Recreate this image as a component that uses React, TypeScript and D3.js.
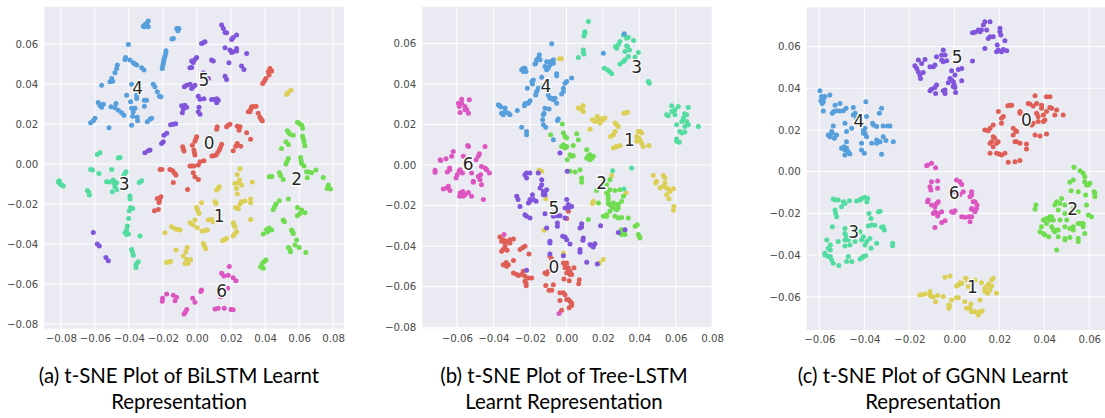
import React, { useEffect, useRef } from 'react';
import * as d3 from 'd3';

type Pt = number[];

// cluster colours, index = class label
const classColors = ['#df5f57', '#dccf55', '#70dc50', '#52dca0', '#569fdc', '#8055dc', '#dc55c0'];

const biLstm0: Pt[] = [[42.9,47.9],[41.9,46.2],[43.9,46.6],[42.4,44.6],[40.5,42.9],[39.6,41.6],[38.6,40.4],[31.1,26.2],[32.1,28.7],[34.7,29],[33.4,28.8],[30.2,26.2],[31.6,27.4],[36,25.4],[37,23.4],[37.7,22.5],[38.4,21.7],[11.9,18.7],[11.6,17.4],[17.4,18.7],[18.4,19.4],[19.4,20],[23.7,19],[25.3,18.7],[24.7,17],[29.2,15.7],[31.5,12.5],[-0.2,13.7],[-1.2,11.5],[-0.7,12.6],[-2.7,9.5],[14.5,10],[13.8,8.5],[13.1,7],[11.2,4.5],[12.2,5.8],[8.8,4],[10,4.2],[23.7,10.3],[25.7,9],[22.8,8.9],[21.3,6.7],[-8.4,8.7],[-7.6,6.5],[-8,7.6],[-1.8,7],[-1.5,5.8],[-1.2,4.5],[1.8,1.2],[4.1,1.7],[0.8,-0.5],[-4.1,-1],[-1.8,-1],[-3,-1],[-21.7,-2.7],[-20.6,-2.7],[-15.9,-2.7],[-14.3,-3.3],[-13.3,-4.4],[-12.3,-5.5],[-2.2,-4.3],[-1.2,-6.3],[0.8,-7.7],[-13.9,-9.2],[-5.5,-12.7],[-21.2,-16.4],[-23.3,-17.2],[-22.3,-19.2],[-22,-17.8],[-25,-23.4],[-22.7,-22.7]];
const biLstm1: Pt[] = [[52.7,34.9],[53.4,35.6],[55.2,37],[25.3,-2.3],[23.7,-5.2],[32.5,-9],[22.3,-9.7],[24.3,-9.3],[26.2,-10.5],[23.3,-12.2],[25,-8],[13.1,-11.3],[12.4,-12.2],[11.6,-13],[23.7,-15],[10.6,-18.9],[11.2,-19.7],[2.7,-19.4],[26.2,-18.9],[25.3,-20],[31.5,-17.5],[31.5,-19.4],[28.2,-18.5],[22.7,-21.7],[24.3,-22.4],[-0.2,-21.7],[0.5,-23.2],[1.2,-24.7],[6.7,-28],[8.6,-27.7],[9.6,-28.9],[31.5,-27.7],[21.3,-29.4],[21.8,-30.4],[22.3,-31.4],[-1.2,-28],[-4.1,-29.4],[-2.2,-30.5],[0.2,-31.9],[3.1,-33.5],[4.6,-33.2],[6.1,-33],[-14.9,-31.4],[-12.9,-32.4],[-11.5,-32.7],[-10,-33],[-18.8,-34.4],[23.3,-33.9],[21.3,-36],[22.2,-35],[17.4,-37.2],[16.2,-37.8],[15.1,-38.4],[3.7,-39.7],[4.4,-41],[5.1,-42.4],[-12.3,-43],[-5.7,-41.7],[-6.5,-43.9],[-8,-46],[-3.7,-47.7],[-7,-49.7],[-5.1,-49.7],[-6,-47.8],[-17.8,-49.2],[-16.6,-49],[-15.5,-48.7]];
const biLstm2: Pt[] = [[59.1,20.9],[61.5,19.5],[62.1,17.9],[60.3,20.2],[53.1,16.7],[53.8,15.8],[54.6,14.9],[56.6,14.5],[62.1,14],[62.5,12.6],[62.9,11.2],[63.4,9.2],[52.3,11.2],[53.7,9.8],[49.7,7.8],[60.9,3.3],[61.2,1.8],[61.5,0.3],[62.9,-1],[53.7,2.8],[53,1.4],[52.3,0],[42.5,-6.3],[48.4,-4.3],[50.7,-7.7],[49.2,-5.8],[44,-6.2],[64.4,-3.8],[67.4,-4.3],[69.9,-3],[64.8,-6.8],[65.8,-4],[74.2,-6.7],[77.2,-10.5],[78.5,-12.5],[76.6,-12.2],[48.4,-18.4],[46.4,-20],[45.6,-21.3],[44.8,-22.7],[53.7,-17.5],[59.1,-21.7],[61.5,-23],[63.5,-24.4],[59,-25.9],[60.5,-24.7],[50.7,-28],[51.4,-28.9],[55.6,-33],[56.1,-33.9],[56.6,-34.7],[40.9,-32.7],[43.9,-33],[39,-35],[41.5,-33.9],[42.4,-32],[58.6,-38],[57.6,-40.5],[60,-41.7],[53.7,-41.7],[55,-43.9],[54.6,-42.8],[64,-44.2],[40.5,-48],[38.4,-49.7],[39,-52.2],[37.4,-51.4],[39.5,-48.8]];
const biLstm3: Pt[] = [[-57,5.7],[-58.6,4.8],[-45.2,3.3],[-46.2,3],[-62.5,-2.7],[-61.4,-3],[-57.6,-4.7],[-50.1,-2.7],[-41.7,-3.8],[-42.5,-5],[-43.3,-6.3],[-53.1,-8.8],[-51.6,-8.9],[-49.2,-8],[-47.2,-9.3],[-48.2,-11.3],[-49.7,-13.8],[-46.9,-12.7],[-48.8,-9.5],[-32.5,-8.3],[-33.9,-9.2],[-81.5,-8.8],[-80.5,-10],[-78.5,-11],[-80.9,-8.3],[-79.5,-10.5],[-63.8,-13.8],[-63.2,-15.5],[-64.4,-13.2],[-39.4,-16],[-39.3,-17.5],[-39,-21.7],[-39.8,-23.4],[-37.8,-22.2],[-40.1,-27.2],[-40.9,-31],[-42.3,-34.4],[-40.3,-35],[-41.3,-33],[-41.3,-35.2],[-33.5,-36],[-38.4,-42.7],[-37.9,-44],[-37.4,-45.6],[-35.4,-49.7],[-34.5,-48.9],[-35.8,-51.7],[-35.8,-50.4]];
const biLstm4: Pt[] = [[-31.5,69.2],[-30.4,70],[-28.6,71.6],[-31,68.7],[-28.6,68.7],[-29.6,70.4],[-11.9,67.9],[-11.2,66.7],[-10.6,67.9],[-13.9,62.9],[-14.7,62.6],[-40.3,59.9],[-18.2,56.7],[-18.4,55.4],[-19.2,52.9],[-19.8,50.4],[-20.4,47.9],[-18.8,54],[-19.5,51.6],[-20.1,49.2],[-41.9,53.4],[-42.3,52.4],[-39.4,52.1],[-37.4,50.7],[-36.4,50.1],[-35.4,49.6],[-32.5,48.2],[-31.1,47.1],[-46.8,49.6],[-47.2,47.9],[-48.2,45.7],[-50.1,42.9],[-51.1,41.2],[-49.5,41.5],[-56,39.5],[-38.4,40],[-25.7,40],[-24.7,38.7],[-23.3,36.2],[-22.1,34],[-21.2,33.7],[-41.3,34.5],[-35.4,34.5],[-35.4,32.9],[-39,31.2],[-30.9,32],[-29.6,32],[-30.9,29],[-58,30.9],[-57,29.5],[-55,30],[-56,28.4],[-50.5,28.7],[-47.6,30.4],[-48.2,28.2],[-46.2,27],[-44.3,25.7],[-42.9,24.4],[-38.4,27.9],[-36.4,27.9],[-37.4,26.2],[-37.8,24],[-35.1,23.4],[-34.9,21.7],[-38.4,19.5],[-60.9,21.7],[-62.5,20.7],[-59.9,22.9],[-51.7,18.2],[-29.2,21.2],[-27.6,22.5],[-26.6,23]];
const biLstm5: Pt[] = [[14.5,69.6],[15.5,67.9],[16.5,65.9],[17.4,65.7],[20.4,62.4],[21.3,63.4],[23.3,64.6],[2.7,60.4],[4.7,61.2],[3.6,60.8],[16.5,58.2],[19.4,57.1],[21.3,56.2],[23.3,57.9],[20.4,55.9],[23.3,56.6],[29.2,55.4],[8.6,52.1],[9.6,51.6],[18.8,50.7],[-3.1,51.6],[-1.2,52.4],[-0.2,53.4],[-2.2,50.9],[-4.1,48.2],[-3.1,48.4],[26.2,49.1],[27.6,47.4],[16.5,44],[17.4,42.4],[3.7,45.7],[6.7,42.9],[-7.4,38.7],[-6.1,39.5],[-4.1,40],[-2.2,38.7],[-1.2,39.5],[-3.1,37.9],[0.8,34],[1.8,32.5],[4.1,32.7],[8.6,32.4],[11.6,32.7],[12.5,32],[11.6,30.7],[10,32.4],[-9,29.2],[-7.1,29.5],[-8,27.4],[-8.6,25.7],[-6.1,28.4],[1.2,28.4],[0.8,26.2],[1.8,25],[-15.5,19.7],[-14,20],[-12.5,20.2],[-19.4,14.5],[-17.8,15.4],[-20.8,10.3],[-19.8,11.2],[-30.6,5.7],[-28.6,6.7],[-27.6,7],[-60.9,-34.2],[-58.6,-40],[-57.4,-41],[-53.5,-46.7],[-52.1,-48.4]];
const biLstm6: Pt[] = [[19,-51.2],[14.5,-54.7],[15.9,-56],[18.4,-55.6],[21.3,-56.9],[22.9,-58.4],[18,-62.2],[2.7,-63],[2.3,-63.8],[-17.8,-65],[-20.2,-67.2],[-20.4,-68.6],[-13.9,-65.6],[-12,-66.7],[-12.9,-68.4],[-2.5,-67.2],[-1.2,-69.2],[-6,-72.8],[-6.8,-74],[-7.6,-75],[10.6,-72.6],[12.5,-72.2],[16,-72.2],[20,-72.8],[21.3,-72.9],[13.9,-66.4]];

const treeLstm0: Pt[] = [[-36.4,-35.5],[-34.6,-36.8],[-32.7,-37.6],[-29,-36.5],[-30.9,-38.4],[-33.6,-40],[-35.5,-42.5],[-32.5,-42],[-22.7,-40],[-25.4,-41.7],[-24,-40.8],[-20.5,-43.8],[-34.6,-49.1],[-31.8,-49.1],[-29,-47.1],[-33,-48],[-29,-53.2],[-26.3,-54.5],[-23.6,-52.4],[-22.7,-54.8],[-19,-55.7],[-22.1,-58.1],[-22,-59.5],[-9,-45],[-8,-46.3],[-11.7,-53.2],[-9.9,-52.4],[-1.6,-48.3],[0.2,-48.3],[1.1,-50.7],[0.2,-53.2],[2,-54],[4.2,-50.7],[-1.3,-56.2],[1.6,-57],[7.1,-56.5],[6.8,-58.5],[-11.3,-59.4],[-7.1,-59],[-9.5,-61.7],[-8,-61.7],[-3.5,-63],[-0.7,-63.9],[0.2,-66.3],[-3.5,-66.8],[2,-67.2],[2.9,-69.3],[1.5,-70.4],[-2.6,-71.6],[1.1,-22.8],[0.2,-26.4],[-35.5,-37.6],[-33.6,-38.4],[-30.9,-36.8],[-34.6,-41.7],[-33.6,-49.3],[-32.7,-49.9],[-27.2,-54],[-24.5,-54],[-20.8,-55.7],[-0.7,-50.7],[1.1,-52.4],[2,-52.4],[2.9,-54],[-0.7,-49.1],[1.1,-66.3],[-1.6,-63],[2.9,-68],[-10.8,-53.7],[-22.7,-57.3]];
const treeLstm1: Pt[] = [[-3.8,52.4],[-2.7,52.4],[7.1,28.1],[9.3,29.2],[9.3,26.4],[8.2,27.6],[14.4,22.3],[17,24],[18.5,20.7],[21.2,23.2],[19.3,22.8],[13,17.7],[31.6,25.6],[33.5,26.1],[26.7,20.7],[28.5,19],[26.7,16.6],[24.3,14.1],[25.8,8.4],[29.4,9.7],[27.5,9],[39.5,16.6],[41.3,15.8],[38.6,14.1],[40.4,12.5],[42.2,9.2],[45.3,9.7],[38.6,11.7],[47.7,-5.1],[49,-8.9],[53.2,-5.1],[54.1,-8.9],[51.4,-11.3],[55.9,-11.7],[58.7,-11.7],[55,-14.6],[56.3,-16.6],[59,-20.4],[58.7,-22.3],[-15,-2.6],[-13.6,-3.1],[-11.3,-16.6],[14.8,-17.9],[14.4,-19],[24.9,-5.1],[32.7,-13.8],[20.3,-46.6],[18.1,-48.3],[-12.2,-32.2],[-1.6,-43.4],[6.6,28.1],[17.4,22.3],[20.1,22.3],[15.7,21.5],[27.6,19.9],[25.8,14.9],[40.4,16.6],[39.5,13.3],[41.3,10.8],[53.2,-10.5],[55,-11.3],[56.9,-13],[49.5,-8],[54.1,-6.4],[27.6,9.2],[33.1,25.9]];
const treeLstm2: Pt[] = [[-2.2,20.2],[-8.6,14.9],[-1.6,15.8],[0.2,13.3],[5.7,15.4],[6.6,12.5],[-1.6,10],[0.2,9.2],[3.8,9.7],[2,5.1],[3.8,4.6],[0.5,2.6],[11.2,7.6],[13,5.1],[14.8,4.3],[11.2,3.4],[13,2.6],[2,-3.1],[4.8,-3.4],[7.5,-2.3],[8.4,-6.4],[8.4,-8.5],[16.6,-12.6],[22.1,-9.7],[23.9,-7.2],[22.5,-13.8],[23.9,-12.2],[26.7,-12.6],[29.4,-12.2],[23,-15.4],[31.3,-15.4],[30.3,-17.9],[23,-19],[25.8,-18.7],[28.5,-19.5],[27.6,-22],[23.9,-22.8],[20.3,-25.3],[22.1,-24.5],[26.7,-25.3],[30.3,-25.8],[34,-26.1],[12.1,-26.9],[17.6,-18.7],[37.7,-30.2],[38.9,-29.4],[39.5,-34.3],[40.4,-36],[29.4,-33.5],[32.2,-34.3],[30.3,-31.9],[-0.7,14.1],[-2.6,9.2],[-0.7,8.4],[2.9,4.3],[12.1,4.6],[13.9,3.4],[22.1,-13.8],[23.9,-19.5],[24.9,-20.4],[27.6,-19.5],[28.5,-21.2],[22.1,-25.3],[28.5,-26.1],[30.3,-34.3],[31.3,-33.5],[40,-35.1],[23,-17],[25.8,-21.2]];
const treeLstm3: Pt[] = [[12.1,70.8],[10.2,65],[9.7,63.7],[9.3,56.8],[9.7,54.8],[6.6,53],[31.3,64.2],[34,63],[36.9,61.4],[29.4,60.9],[27.6,57.6],[33.1,58.9],[34.6,56.8],[34,53.5],[32.2,51.9],[29.4,49.9],[37.7,53.2],[39.5,55.5],[20.8,47.8],[22.5,47],[24.9,45],[45,41.2],[45.5,40.4],[57.8,29.2],[55,24.8],[58.7,26.4],[61.4,28.9],[66.9,28.4],[59.6,24.8],[64.2,23.2],[66,24.8],[63.3,21.5],[66.9,19.9],[72.4,19],[60.5,19.9],[62.2,16.6],[65,16.3],[60.5,12.8],[62,11.3],[35.8,-1.5],[25.4,-2.8],[31.6,-11.8],[28.5,59.3],[33.1,62.6],[32.2,56],[33.5,58.5],[31.3,51.1],[23.7,46.1],[9.3,55.5],[59.6,27.3],[57.8,26.4],[64.9,25.3],[66,21.5],[65,19],[60.5,11.7],[63.3,15.8],[55.9,24.3],[10.2,65.8],[27,58.5]];
const treeLstm4: Pt[] = [[-8,59.8],[-16.3,51.9],[-14.8,54.4],[-17.2,49.9],[-15.4,52.7],[-10.8,51],[-7.1,51.9],[-7.1,50.2],[-9,49.4],[-10.8,47],[-11.7,48.6],[-24.5,47],[-22.7,47.8],[-22.1,46.1],[-23.5,46.1],[-13.5,43.3],[-5.3,45],[-5.3,44],[-18.1,42],[-18.6,40],[-21.4,37.9],[-16.3,36.3],[-14.4,37.9],[-16.8,34.6],[-12.6,39],[2.9,42.9],[-0.7,40.4],[-1.6,37.9],[-2.6,35.1],[-9,33],[-7.1,32.2],[-9.9,34.6],[-5.3,30.5],[-21.8,30.5],[-19.9,31.7],[-23,29.3],[-37.3,29.7],[-36,28.6],[-33.6,28.1],[-34.6,24.8],[-31.8,25.6],[-30.9,24.8],[-26.9,26.9],[-11.7,28],[-12.6,24.8],[-13,22.3],[-9.5,27.7],[-4.4,22.7],[-4.9,22],[-12.6,19.9],[-11.3,18.7],[-24.5,18.7],[-21.8,16.6],[-21.8,14.9],[-7.1,12.5],[20.3,55.2],[31.8,64.7],[-16.8,50.2],[-14.4,51.9],[-9,51],[-9.9,47.8],[-23.6,47.8],[-18.9,41.2],[-15.4,37.9],[-8,33],[-6.2,33],[-35.5,25.6],[-33.6,26.4],[-36.6,29.2],[-12.2,25.6],[-22.7,30.2],[-20.8,30.5],[-1.6,36.3],[0.2,41.2]];
const treeLstm5: Pt[] = [[-22.7,-4.8],[-21.8,-6.4],[-20,-3.9],[-15.4,-3.9],[-13.5,-7.2],[-14.4,-11.3],[-11.7,-13],[-12.6,-14.6],[-10.8,-12.2],[-27.2,-15.4],[-25.4,-20.4],[-19.9,-17],[-20.8,-18.7],[-16.6,-17.9],[-18.6,-14.6],[-22.7,-24.5],[-19.9,-26.1],[0.2,-17],[1.1,-21.2],[2.9,-20.4],[-11.7,-24],[-7.1,-25.3],[-3.5,-25],[-0.7,-26.1],[-4.9,-28.6],[-10.8,-31],[8.4,-28.9],[7.5,-31],[18.8,-29.9],[-9,-37.6],[-2,-35.1],[0.2,-36.8],[2,-38.9],[9.3,-36],[13,-39.2],[14.8,-40.4],[15.7,-38.8],[7.5,-41.7],[-9,-43.8],[-1.6,-44.7],[11.2,-47.9],[17,-48.8],[0.5,-3.1],[-3.5,5.9],[-21.8,-51.9],[28.5,-33.2],[32.2,-31.9],[-21.8,-3.9],[-13.5,-9.7],[-12.6,-13],[-11.7,-14.6],[-19.9,-17.9],[-18.1,-17],[-26.5,-17],[-21.8,-25.3],[-0.7,-21.2],[1.1,-19.5],[-5.3,-25],[8.4,-30.5],[13.9,-39.7],[9.1,-37.1],[-0.7,-35.5],[7.5,-43],[-4.9,-30.2],[-9,-38.4]];
const treeLstm6: Pt[] = [[-57.4,32.5],[-53.2,32.2],[-59.2,30.5],[-55.6,28.9],[-58.3,25.9],[-53.7,25.6],[-54.6,27.3],[-54.1,9.7],[-44.6,9.2],[-62,6.7],[-66,3.1],[-68.9,2.3],[-72,-2.6],[-62.9,4.3],[-56.5,4.3],[-47.7,5.6],[-49.5,2.6],[-64,-1.5],[-65.3,-3.4],[-58.3,-2.3],[-60.5,-6.4],[-52,-3.9],[-46.5,-0.7],[-43.7,-2.3],[-42.2,-3.9],[-47,-4.8],[-51,-8],[-47.3,-7.2],[-46.5,-9.7],[-67.5,-11.8],[-64.7,-10.5],[-63.8,-12.5],[-58.3,-13.8],[-56.5,-15.4],[-53.7,-13.5],[-52,-15.4],[-58.5,-15.4],[-45.5,-17],[-34.2,-34.3],[-4,-73.2],[-57.4,30.5],[-55.6,27.3],[-58.7,28.9],[-69.2,2.6],[-64,-2.3],[-58.8,-3.1],[-57,-3.9],[-59.8,-4.8],[-51,-8.5],[-48.3,-5.6],[-44.6,-1.5],[-65.6,-11.3],[-56.8,-13],[-55.5,-14.6],[-53.7,9.2],[-48.3,4.3],[-72,-3.6]];

const ggnn0: Pt[] = [[35.9,36.4],[41,35.9],[42.5,35.9],[32.9,32.7],[36.6,32.7],[38.8,31.9],[25.5,31.9],[23.8,31.6],[29.2,28],[30.7,27.2],[43.3,30.4],[45.5,29.6],[44.7,27.2],[48.4,27.2],[36.6,28],[39.6,27.2],[38.8,30.4],[40.3,24.8],[19.6,28.8],[21,25.6],[21,23.2],[37.3,24],[35.1,23.2],[13.6,20],[15.1,19.6],[17.3,22.4],[26.2,20.8],[27.7,19.2],[26.2,17.6],[35.9,17.6],[38.1,17.1],[41,18.1],[17.3,16.8],[16.6,14.4],[18.8,13.6],[17.3,12],[19.5,14.4],[15.9,8.8],[18.8,8.8],[21,8],[22.5,8.8],[27,14.4],[29.2,13.6],[32.1,13.3],[32.1,10.9],[24,4.5],[27,4.8],[29.2,5.3],[29.2,28.8],[33.6,32.4],[35.1,31.5],[41,28.8],[42.5,30.8],[37.3,26.4],[39.6,24],[15.9,20.8],[15.9,13.6],[18,16],[19.9,8.5],[27.7,14.4],[27.3,19.6],[21.8,26.4],[34.4,22.4],[24.7,31.9]];
const ggnn1: Pt[] = [[-4.1,-50.6],[-1.9,-50],[-15.3,-59.1],[-13,-58.6],[-10.8,-57.5],[-10.1,-59.9],[-7.4,-59.4],[-8.3,-62.3],[-4.9,-59.9],[1.8,-54.3],[3.3,-53.5],[5,-51.1],[9.2,-51.9],[6.2,-55.1],[-1.2,-61.5],[1,-60.4],[-2.4,-65.5],[-2,-64],[12.1,-53.2],[14.4,-55.1],[15.9,-56.7],[16.6,-51.9],[17.3,-51.1],[13.6,-57.5],[18.8,-58.3],[15.2,-54],[4.7,-62.3],[7.4,-63.4],[11.4,-61.5],[5.5,-65.5],[7.7,-67.1],[10.7,-68.7],[12.4,-66.8],[-10.8,-59],[-9.3,-60],[2.5,-53.2],[1,-54.8],[13.6,-56],[14.8,-58.3],[16.6,-54.8],[7,-65.5],[9.2,-67.1],[11.4,-67.1],[1.8,-60.4],[-2.4,-63.9],[-14.5,-59],[5.9,-52]];
const ggnn2: Pt[] = [[53.2,2.1],[55.9,0.5],[57.3,-0.8],[58,-4.8],[60.3,-5.6],[58.8,-6.4],[52.9,-4],[51.4,-5.1],[51.9,-9.1],[55.1,-9.6],[62.2,-9.6],[62.5,-12],[58.4,-11.2],[58.8,-16],[47.7,-12.8],[45.5,-14.4],[49.2,-16],[36.3,-16],[35.9,-18],[52.9,-17.6],[55.1,-19.2],[59.6,-20.8],[46.2,-18.4],[49.2,-20],[42.5,-21.6],[41,-22.4],[44,-23.2],[39.6,-23.2],[47,-23.2],[38.8,-26.4],[43.3,-26.4],[45.5,-28],[49.2,-26.4],[52.9,-26.4],[57.3,-24.8],[55.1,-24.8],[38.1,-28.8],[42,-31.2],[46.2,-31.2],[49.2,-32.7],[51.4,-31.5],[55.1,-33.5],[58,-29.6],[52.9,-28],[45.5,-37.5],[58,-2.4],[59.6,-6.4],[44.7,-16],[42.5,-23.2],[43.3,-21.6],[41,-24.8],[44.7,-28.8],[46.2,-28],[44,-28],[39.6,-29.6],[40.3,-30.4],[50,-23.2],[51.4,-27.2],[55.9,-24.8],[49.2,-32],[55.1,-32],[61,-21.6],[62.5,-10.4],[47,-15.2],[57.3,-26.4]];
const ggnn3: Pt[] = [[-53.8,-13.1],[-51.6,-13.6],[-49.3,-14.4],[-46.6,-13.9],[-43.4,-14],[-41.2,-12.8],[-38.5,-12.8],[-38.9,-14.4],[-50.1,-16.8],[-52.7,-20],[-52.3,-21.6],[-37.9,-20],[-37,-22.4],[-33,-19],[-54.2,-26.4],[-48.6,-27.2],[-44.1,-26.4],[-38.2,-26],[-35.3,-25.7],[-32.3,-26.7],[-31.1,-28],[-48.6,-29.6],[-47.1,-32.7],[-41.9,-28.8],[-41.2,-32.7],[-37.5,-32],[-34.5,-34.3],[-39.7,-35.1],[-37,-36.7],[-56.7,-32.7],[-55.1,-35.1],[-51.6,-33.5],[-48.6,-35.6],[-46.4,-35.1],[-44.1,-33.5],[-27.4,-34.3],[-27.4,-35.5],[-57.5,-39.1],[-55.1,-37.5],[-56,-40.7],[-53.8,-43.9],[-51.3,-45],[-47.9,-43.1],[-45.6,-43.1],[-41.2,-41.5],[-39.4,-40.3],[-47.1,-40.7],[-53,-13.6],[-48.6,-15.2],[-39.7,-12.3],[-41.9,-13.6],[-53,-18.4],[-47.9,-31.2],[-48.6,-32.7],[-40.4,-31.2],[-38.9,-33.5],[-56,-36.7],[-57.5,-39.9],[-54.5,-42.3],[-55.1,-40.7],[-40.4,-40.7],[-41.9,-41.9],[-36.7,-25.6],[-31.6,-26.4],[-33.7,-19.2]];
const ggnn4: Pt[] = [[-59.7,38.8],[-58.2,35.1],[-58.7,32.7],[-55.3,36.7],[-59.3,34],[-58.2,29.1],[-54.2,28],[-53,31.9],[-50.8,32.7],[-50.8,29.1],[-48.1,30.4],[-44.9,30.8],[-44.1,28],[-39.3,33.5],[-32.3,30.4],[-33.3,28],[-39,26.4],[-53.8,21.9],[-48.6,23.2],[-43.4,25.6],[-36.3,23.2],[-34.5,21.6],[-31.6,21.9],[-28.6,21.9],[-56,17.6],[-54.2,18.4],[-53.3,16],[-47.9,19.2],[-45.6,20.8],[-40.4,20],[-39.7,18.4],[-39,16.8],[-41.2,13.6],[-36.7,13.6],[-34.5,15.2],[-33,14.4],[-31.6,16.8],[-30.4,14.9],[-27.1,14.4],[-50.1,11.2],[-47.9,14.4],[-47.9,11.2],[-48.6,8],[-46.4,8.5],[-41.2,10.4],[-40,8.8],[-32.3,8.3],[-59,36],[-57.5,36],[-58.2,33.5],[-53.6,28.8],[-52.3,29.2],[-49.3,29.2],[-54.5,19.2],[-55.3,16.8],[-52.3,17.6],[-48.6,10.4],[-47.1,9.6],[-39.7,20.8],[-40.4,18.4],[-44.9,27.2],[-33.7,14.4],[-34.5,13.6],[-35.9,22.4],[-29.6,21.9],[-48.9,12]];
const ggnn5: Pt[] = [[13.6,71.9],[15.9,71.9],[11.4,67.1],[8.1,66.6],[9.2,66.8],[14.4,67.9],[20.3,68.7],[20.7,65.5],[15.1,63.9],[17.3,64.7],[22.5,62.8],[13.6,59.1],[19.1,60.7],[18.8,57.5],[21,57.5],[23.3,58],[8.1,53],[-4.9,58.3],[-4.1,55.9],[-5.6,53.5],[-7.9,55.1],[-8.6,51.1],[-10.8,50.3],[-16,53.5],[-13,53.8],[-14.5,51.9],[-17.5,50.8],[-16,47.9],[-15,44.7],[-13.8,47.5],[3.3,49.5],[-1.2,48.4],[-1.9,44.7],[0.3,46.3],[3.3,43.6],[-2.7,42.6],[0,41.5],[0.6,37.9],[-7.9,41.5],[-10.8,38.8],[-8.3,37.5],[-4.9,38.8],[-4.1,37.5],[-0.5,40.8],[1.3,57.5],[12.9,70.3],[12.1,67.9],[10.7,67.9],[20.3,67.1],[15.9,64.7],[19.6,58.3],[21.8,58.6],[-5.6,55.9],[-4.9,52.7],[-3.4,53.2],[-16.7,49.5],[-15.3,46.3],[-9.3,50.3],[-1.2,43.9],[-0.4,43.1],[1.8,49],[0.3,40.4],[-10.1,39.5],[-4.1,39.1],[-8.6,40.4]];
const ggnn6: Pt[] = [[-11.9,3.2],[-10.1,4],[-8.3,1.9],[-10.1,-4.8],[-7.4,-4.5],[-10.4,-8.8],[-7.4,-8],[1,-4],[3.3,-6.1],[0.3,-9.6],[7.7,-9.6],[7,-12],[4,-9.6],[2.5,-11],[-11.6,-13.6],[-10.1,-16],[-7.1,-14.4],[-8.6,-19.2],[-7.1,-20],[-5.6,-19.2],[-1.2,-19.2],[0.3,-18.7],[-4.1,-23.5],[-5.6,-24.4],[-8.6,-26.8],[3.3,-21.6],[4.7,-21.9],[7,-24],[7.7,-21.6],[9.9,-17.6],[7.7,-18],[8.4,-14.4],[10.1,-16],[-10.8,-7.2],[-8.6,-16.8],[-9.3,-20],[-7.9,-15.2],[-7.4,-21.3],[-0.4,-19.6],[7.7,-17.6],[9.2,-19.2],[6.5,-21.6],[9.2,-14.4],[7.7,-11.2],[2.5,-4.8],[-11.9,-14.4],[-12.3,2.9]];

const biLstmLabels: Pt[] = [[7.2,10.8],[13.1,-26],[58.6,-7.5],[-42.7,-9.7],[-34.9,38.4],[4.1,42.4],[14.5,-63.6]];
const treeLstmLabels: Pt[] = [[-6.8,-50.2],[34.6,12.2],[19.4,-8.9],[38.6,48.6],[-11.2,39.2],[-6.8,-20.9],[-53.9,0.7]];
const ggnnLabels: Pt[] = [[32.1,24.8],[8.1,-55.3],[52.6,-18],[-44.7,-29],[-42.4,24.4],[1.3,55.1],[0,-10.4]];

const xTicksA = [-80, -60, -40, -20, 0, 20, 40, 60, 80];
const yTicksA = [-80, -60, -40, -20, 0, 20, 40, 60];
const xTicksB = [-60, -40, -20, 0, 20, 40, 60, 80];
const yTicksB = [-80, -60, -40, -20, 0, 20, 40, 60];
const xTicksC = [-60, -40, -20, 0, 20, 40, 60];
const yTicksC = [-60, -40, -20, 0, 20, 40, 60];

const panels = [
  {
    clusters: [biLstm0, biLstm1, biLstm2, biLstm3, biLstm4, biLstm5, biLstm6],
    labels: biLstmLabels, xTicks: xTicksA, yTicks: yTicksA,
    xDomain: [-89.7, 86.4], yDomain: [-82.4, 78.8],
    rect: { left: 44.3, right: 344, top: 6.7, bottom: 328.7 },
    caption: ['(a) t-SNE Plot of BiLSTM Learnt', 'Representation'], captionX: 179,
  },
  {
    clusters: [treeLstm0, treeLstm1, treeLstm2, treeLstm3, treeLstm4, treeLstm5, treeLstm6],
    labels: treeLstmLabels, xTicks: xTicksB, yTicks: yTicksB,
    xDomain: [-79, 79.9], yDomain: [-80.5, 78.1],
    rect: { left: 422.3, right: 712, top: 6.7, bottom: 328.3 },
    caption: ['(b) t-SNE Plot of Tree-LSTM', 'Learnt Representation'], captionX: 564,
  },
  {
    clusters: [ggnn0, ggnn1, ggnn2, ggnn3, ggnn4, ggnn5, ggnn6],
    labels: ggnnLabels, xTicks: xTicksC, yTicks: yTicksC,
    xDomain: [-65.6, 67], yDomain: [-75.9, 78.8],
    rect: { left: 806.7, right: 1105, top: 7.3, bottom: 330 },
    caption: ['(c) t-SNE Plot of GGNN Learnt', 'Representation'], captionX: 933,
  },
];

const tickFormat = (d: any) => d3.format('.2f')(d / 1000).replace('-', '\u2212');

const App = () => {
  const svgRef = useRef<SVGSVGElement>(null);

  useEffect(() => {
    const svg = d3.select(svgRef.current);
    svg.selectAll('*').remove();

    // the source is an upscaled raster, so soften the dots a little
    svg.append('defs').append('filter')
      .attr('id', 'soft')
      .append('feGaussianBlur')
      .attr('stdDeviation', 0.35);

    panels.forEach((p) => {
      const { left, right, top, bottom } = p.rect;
      const x = d3.scaleLinear().domain(p.xDomain).range([left, right]);
      const y = d3.scaleLinear().domain(p.yDomain).range([bottom, top]);
      const g = svg.append('g');

      g.append('rect')
        .attr('x', left).attr('y', top)
        .attr('width', right - left).attr('height', bottom - top)
        .attr('fill', '#eaeaf2');

      // seaborn style grid, no tick marks or spines
      g.selectAll('.vgrid').data(p.xTicks).enter().append('line')
        .attr('x1', d => x(d)).attr('x2', d => x(d))
        .attr('y1', top).attr('y2', bottom)
        .attr('stroke', '#fff').attr('stroke-width', 1);
      g.selectAll('.hgrid').data(p.yTicks).enter().append('line')
        .attr('x1', left).attr('x2', right)
        .attr('y1', d => y(d)).attr('y2', d => y(d))
        .attr('stroke', '#fff').attr('stroke-width', 1);

      const xAxis = g.append('g')
        .attr('transform', `translate(0, ${bottom})`)
        .call(d3.axisBottom(x).tickValues(p.xTicks).tickSize(0).tickPadding(6).tickFormat(tickFormat));
      const yAxis = g.append('g')
        .attr('transform', `translate(${left}, 0)`)
        .call(d3.axisLeft(y).tickValues(p.yTicks).tickSize(0).tickPadding(6).tickFormat(tickFormat));
      [xAxis, yAxis].forEach((a) => {
        a.select('.domain').remove();
        a.selectAll('text')
          .attr('font-family', '"DejaVu Sans"')
          .attr('font-size', 10.2)
          .attr('fill', '#4a4a4a');
      });

      p.clusters.forEach((pts, i) => {
        g.append('g').attr('filter', 'url(#soft)')
          .selectAll('circle').data(pts).enter().append('circle')
          .attr('cx', d => x(d[0])).attr('cy', d => y(d[1]))
          .attr('r', 2.5)
          .attr('fill', classColors[i]);
      });

      // class number on top of each cluster, with white halo
      g.selectAll('.cluster-label').data(p.labels).enter().append('text')
        .attr('x', d => x(d[0])).attr('y', d => y(d[1]))
        .attr('dy', '0.36em')
        .attr('text-anchor', 'middle')
        .attr('font-family', '"DejaVu Sans"')
        .attr('font-size', 17)
        .attr('fill', '#262626')
        .attr('stroke', '#fff')
        .attr('stroke-width', 2.5)
        .attr('paint-order', 'stroke')
        .text((d, i) => i);

      g.selectAll('.caption').data(p.caption).enter().append('text')
        .attr('x', p.captionX)
        .attr('y', (d, i) => 382.5 + i * 26)
        .attr('text-anchor', 'middle')
        .attr('font-family', 'Lato')
        .attr('font-size', 20.4)
        .attr('fill', '#000')
        .text(d => d);
    });
  }, []);

  return (
    <svg ref={svgRef} width={1105} height={418} style={{ position: 'absolute', left: 0, top: 0 }}></svg>
  );
};

export default App;
